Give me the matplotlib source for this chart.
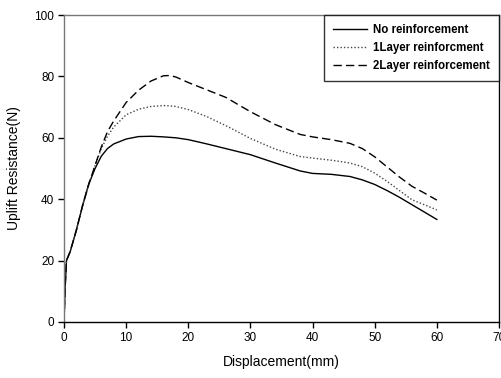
import matplotlib
matplotlib.use("Agg")
import matplotlib.pyplot as plt

plt.rcParams['font.family'] = ['Liberation Sans', 'DejaVu Sans']

disp_none = [0, 0.2, 0.4, 1, 2, 3, 4, 5, 6, 7, 8, 10, 12, 14, 16, 18, 20, 23, 26, 30, 34, 38, 40, 43, 46, 48, 50, 52, 54, 56, 58, 60]
res_none = [0, 12, 20, 23, 30, 38, 45, 50, 54, 56.5, 58, 59.6, 60.4, 60.5, 60.3, 60, 59.4, 58, 56.5, 54.5, 51.8, 49.2, 48.4, 48.1, 47.4, 46.3, 44.8, 42.8, 40.6, 38.2, 35.8, 33.4]

disp_one = [0, 0.2, 0.4, 1, 2, 3, 4, 5, 6, 7, 8, 10, 12, 14, 16, 17, 18, 20, 23, 26, 30, 34, 38, 40, 43, 46, 48, 50, 52, 54, 56, 58, 60]
res_one = [0, 12, 20, 23, 30, 38, 45, 51, 56.5, 60.5, 63.5, 67.5, 69.3, 70.2, 70.5, 70.4, 70.2, 69.2, 66.9, 64, 59.8, 56.3, 53.9, 53.4, 52.7, 51.8, 50.6, 48.5, 45.8, 42.8, 39.8, 38.2, 36.5]

disp_two = [0, 0.2, 0.4, 1, 2, 3, 4, 5, 6, 7, 8, 10, 12, 14, 16, 17, 18, 20, 23, 26, 30, 34, 38, 40, 43, 46, 48, 50, 52, 54, 56, 58, 60]
res_two = [0, 12, 20, 23, 30, 38, 45, 51, 57, 62, 65.5, 71.5, 75.5, 78.5, 80.2, 80.3, 79.8, 78, 75.6, 73.2, 68.5, 64.3, 61.1, 60.3, 59.4, 58.2, 56.5, 53.8, 50.5, 47.2, 44.2, 42, 39.7]

xticks = [0, 10, 20, 30, 40, 50, 60, 70]
yticks = [0, 20, 40, 60, 80, 100]

fig = plt.figure(figsize=(5.02, 3.78), dpi=100)
ax = fig.add_axes([64/502, 1-322/378, (499-64)/502, (322-15)/378])

ax.plot(disp_none, res_none, color='black', lw=1.0, ls='-', label='No reinforcement')
ax.plot(disp_one, res_one, color='#444444', lw=1.0, ls=(0, (1, 1.5)), label='1Layer reinforcment')
ax.plot(disp_two, res_two, color='black', lw=1.0, ls=(0, (6, 3)), label='2Layer reinforcement')

ax.set_xlim(0, 70)
ax.set_ylim(0, 100)
ax.set_xticks(xticks)
ax.set_yticks(yticks)
ax.tick_params(direction='out', length=4, width=1, labelsize=8.5, pad=3)
ax.set_xlabel('Displacement(mm)', fontsize=10, labelpad=8)
ax.set_ylabel('Uplift Resistance(N)', fontsize=10, labelpad=10)
for s in ['top', 'left']:
    ax.spines[s].set_color('#777777')
for s in ax.spines.values():
    s.set_linewidth(1.0)

leg = ax.legend(loc='upper right', bbox_to_anchor=(1.0, 1.0), frameon=True,
                fancybox=False, borderaxespad=0, handlelength=2.9, handletextpad=0.6,
                borderpad=0.75, labelspacing=0.55, prop={'weight': 'bold', 'size': 8.3})
leg.get_frame().set_edgecolor('black')
leg.get_frame().set_linewidth(1.0)

fig.savefig('out.png', dpi=100)
